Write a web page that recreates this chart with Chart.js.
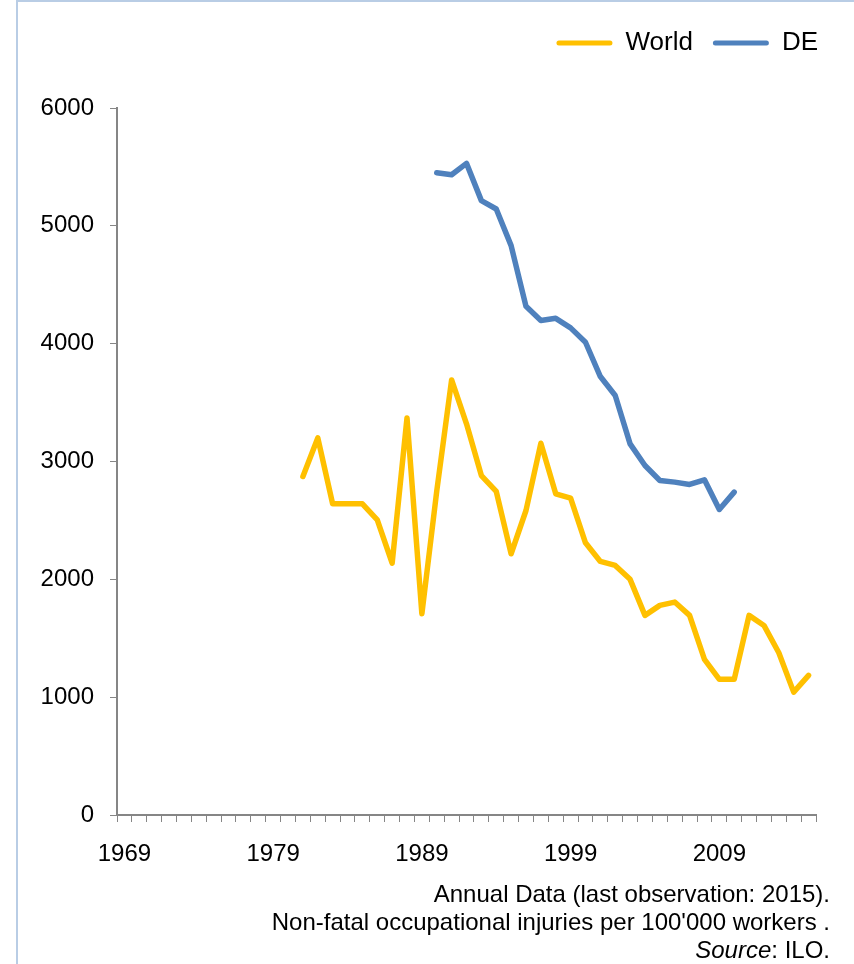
<!DOCTYPE html>
<html>
<head>
<meta charset="utf-8">
<script src="https://cdn.jsdelivr.net/npm/chart.js@4.4.0/dist/chart.umd.min.js"></script>
<style>
  html, body { margin: 0; padding: 0; background: #ffffff; }
  #wrap { position: relative; width: 854px; height: 964px; overflow: hidden; }
  #frame { position: absolute; left: 16px; top: 0; width: 840px; height: 964px;
           border-top: 2px solid #b9cde5; border-left: 2px solid #b9cde5; box-sizing: border-box; }
  #chart { position: absolute; left: 0; top: 0; }
  #note { position: absolute; right: 24px; top: 880px; text-align: right;
          font-family: "Liberation Sans", Arial, sans-serif; font-size: 24px; line-height: 28px; color: #000; }
</style>
</head>
<body>
<div id="wrap">
  <div id="frame"></div>
  <canvas id="chart" width="854" height="964"></canvas>
  <div id="note">
    Annual Data (last observation: 2015).<br>
    Non-fatal occupational injuries per 100'000 workers .<br>
    <i>Source</i>: ILO.
  </div>
</div>
<script>
// --- Data ---
const years = [
  '1969','1970','1971','1972','1973','1974','1975','1976','1977','1978',
  '1979','1980','1981','1982','1983','1984','1985','1986','1987','1988',
  '1989','1990','1991','1992','1993','1994','1995','1996','1997','1998',
  '1999','2000','2001','2002','2003','2004','2005','2006','2007','2008',
  '2009','2010','2011','2012','2013','2014','2015'
];
const xTickLabels = ['1969', '1979', '1989', '1999', '2009'];
const yTicks = [0, 1000, 2000, 3000, 4000, 5000, 6000];

// World: 1981 - 2015
const worldStart = '1981';
const worldValues = [
  2873, 3200, 2641, 2641, 2641, 2505, 2137, 3370, 1708, 2750,
  3692, 3320, 2881, 2746, 2217, 2584, 3155, 2726, 2689, 2310,
  2152, 2118, 2000, 1694, 1779, 1807, 1694, 1321, 1151, 1151,
  1694, 1609, 1377, 1043, 1185
];

// DE: 1990 - 2010
const deStart = '1990';
const deValues = [
  5451, 5434, 5530, 5214, 5143, 4832, 4317, 4196, 4215, 4134,
  4012, 3721, 3560, 3150, 2966, 2839, 2825, 2805, 2845, 2593,
  2740
];

// place a series on the full year axis
const alignSeries = (start, values) => {
  const offset = years.indexOf(start);
  return years.map((y, i) => {
    const k = i - offset;
    return (k >= 0 && k < values.length) ? values[k] : null;
  });
};

const FONT = '"Liberation Sans", Arial, sans-serif';
const AXIS_GREY = '#868686';

const ctx = document.getElementById('chart').getContext('2d');

new Chart(ctx, {
  type: 'line',
  data: {
    labels: years,
    datasets: [
      {
        label: 'World',
        data: alignSeries(worldStart, worldValues),
        borderColor: '#FFC000',
        backgroundColor: '#FFC000',
        borderWidth: 5.5,
        borderJoinStyle: 'round',
        borderCapStyle: 'round',
        pointRadius: 0,
        tension: 0,
        spanGaps: false
      },
      {
        label: 'DE',
        data: alignSeries(deStart, deValues),
        borderColor: '#4F81BD',
        backgroundColor: '#4F81BD',
        borderWidth: 5.5,
        borderJoinStyle: 'round',
        borderCapStyle: 'round',
        pointRadius: 0,
        tension: 0,
        spanGaps: false
      }
    ]
  },
  options: {
    responsive: false,
    animation: false,
    events: [],
    layout: { padding: { left: 0, right: 16, top: 10, bottom: 89 } },
    plugins: {
      tooltip: { enabled: false },
      legend: {
        position: 'top',
        align: 'end',
        labels: {
          color: '#000',
          font: { family: FONT, size: 26 },
          boxWidth: 56,
          boxHeight: 5,
          padding: 20,
          useBorderRadius: true,
          borderRadius: 2.5,
          generateLabels: function(chart) {
            const items = Chart.defaults.plugins.legend.labels.generateLabels(chart);
            items.forEach(it => { it.lineWidth = 0; });
            return items;
          }
        }
      }
    },
    scales: {
      x: {
        type: 'category',
        position: 'bottom',
        offset: true,
        grid: {
          display: true,
          offset: true,
          drawOnChartArea: false,
          drawTicks: true,
          tickLength: 7,
          color: AXIS_GREY,
          lineWidth: 1
        },
        border: { display: true, color: AXIS_GREY, width: 2 },
        ticks: {
          autoSkip: false,
          maxRotation: 0,
          minRotation: 0,
          padding: 18,
          color: '#000',
          font: { family: FONT, size: 24 },
          callback: function(value) {
            const lbl = this.getLabelForValue(value);
            return xTickLabels.includes(lbl) ? lbl : '';
          }
        },
        afterFit: function(scale) { scale.height = 60; }
      },
      xTop: {
        type: 'linear',
        position: 'top',
        display: true,
        grid: { display: false },
        border: { display: false },
        ticks: { display: false },
        afterFit: function(scale) { scale.height = 42; }
      },
      y: {
        type: 'linear',
        position: 'left',
        min: 0,
        max: 6000,
        afterBuildTicks: function(scale) {
          scale.ticks = yTicks.map(v => ({ value: v }));
        },
        grid: {
          display: true,
          drawOnChartArea: false,
          drawTicks: true,
          tickLength: 7,
          color: AXIS_GREY,
          lineWidth: 1
        },
        border: { display: true, color: AXIS_GREY, width: 2 },
        ticks: {
          padding: 16,
          color: '#000',
          font: { family: FONT, size: 24 },
          callback: function(value) { return String(value); }
        },
        afterFit: function(scale) { scale.width = 117; }
      },
      yRight: {
        type: 'linear',
        position: 'right',
        display: true,
        grid: { display: false },
        border: { display: false },
        ticks: { display: false },
        afterFit: function(scale) { scale.width = 22; }
      }
    }
  }
});
</script>
</body>
</html>
